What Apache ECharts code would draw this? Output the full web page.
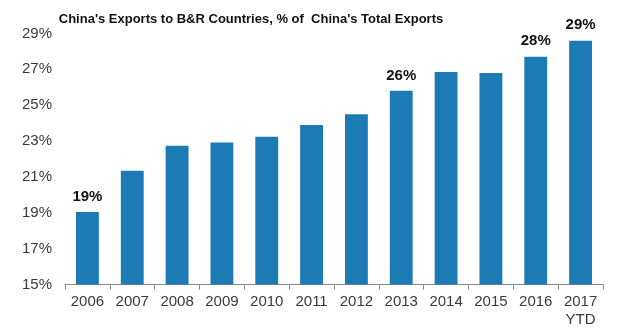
<!DOCTYPE html>
<html><head><meta charset="utf-8">
<script src="https://cdn.jsdelivr.net/npm/echarts@6/dist/echarts.min.js"></script>
<style>html,body{margin:0;padding:0;background:#fff}#c{width:630px;height:329px}</style>
</head><body><div id="c"></div>
<script>
var categories = ['2006','2007','2008','2009','2010','2011','2012','2013','2014','2015','2016','2017\nYTD'];
var values = [19.05, 21.35, 22.74, 22.92, 23.24, 23.9, 24.5, 25.8, 26.85, 26.8, 27.7, 28.6];
var labeledIdx = [0, 7, 10, 11];
var yTicks = [15, 17, 19, 21, 23, 25, 27, 29];

var chart = echarts.init(document.getElementById('c'));
chart.setOption({
  animation: false,
  title: {
    text: "China's Exports to B&R Countries, % of  China's Total Exports",
    left: 246, top: 8, textAlign: 'center',
    textStyle: {fontFamily: 'Liberation Sans', fontWeight: 'bold', fontSize: 13, color: '#111'}
  },
  grid: {left: 65, right: 27, top: 33.5, bottom: 44.5, containLabel: false},
  xAxis: {
    type: 'category', data: categories,
    axisLine: {lineStyle: {color: '#888', width: 1}},
    axisTick: {show: true, alignWithLabel: false, length: 5, lineStyle: {color: '#888'}},
    axisLabel: {fontFamily: 'Liberation Sans', fontSize: 15, color: '#3a3a3a', margin: 8, lineHeight: 18}
  },
  yAxis: {
    type: 'value', min: yTicks[0], max: yTicks[yTicks.length-1], interval: 2,
    axisLine: {show: false}, axisTick: {show: false}, splitLine: {show: false},
    axisLabel: {fontFamily: 'Liberation Sans', fontSize: 15, color: '#3a3a3a', margin: 13,
      formatter: function(v){return v + '%';}}
  },
  series: [{
    type: 'bar', barWidth: '51%',
    itemStyle: {color: '#1C7AB5'},
    data: values.map(function(v, i){
      return {value: v, label: {show: labeledIdx.indexOf(i) >= 0}};
    }),
    label: {position: 'top', distance: 8, fontFamily: 'Liberation Sans', fontWeight: 'bold', fontSize: 15, color: '#111',
      formatter: function(p){return Math.round(p.value) + '%';}}
  }]
});
</script></body></html>
